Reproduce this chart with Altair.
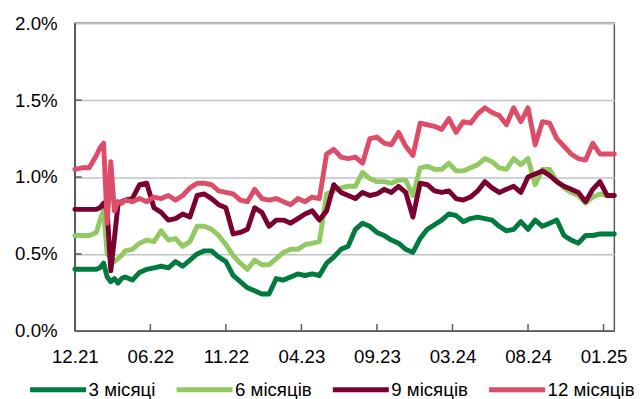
import altair as alt
import pandas as pd

# trading-day index of each sample
t_idx = [0, 10, 20, 30, 35, 40, 45, 50, 55, 60, 65, 70] + list(range(80, 760, 10))

series_names = ["3 місяці", "6 місяців", "9 місяців", "12 місяців"]
series_colors = ["#007A3E", "#93C962", "#7A0032", "#DE4D68"]

m3 = [0.40, 0.40, 0.40, 0.40, 0.41, 0.44, 0.35, 0.32, 0.34, 0.31, 0.34, 0.35,
      0.33, 0.38, 0.40, 0.41, 0.42, 0.41, 0.45, 0.42, 0.46, 0.50,
      0.52, 0.52, 0.48, 0.45, 0.36, 0.32, 0.28, 0.26, 0.24, 0.24,
      0.34, 0.33, 0.35, 0.37, 0.36, 0.37, 0.36, 0.44, 0.48, 0.53,
      0.55, 0.66, 0.70, 0.68, 0.64, 0.62, 0.59, 0.57, 0.53, 0.51,
      0.60, 0.66, 0.69, 0.72, 0.76, 0.75, 0.71, 0.73, 0.74, 0.73,
      0.72, 0.68, 0.65, 0.66, 0.71, 0.66, 0.72, 0.68, 0.70, 0.72,
      0.62, 0.59, 0.57, 0.62, 0.62, 0.63, 0.63, 0.63]

m6 = [0.62, 0.62, 0.62, 0.64, 0.72, 0.78, 0.50, 0.47, 0.45, 0.47, 0.49, 0.52,
      0.53, 0.57, 0.59, 0.58, 0.65, 0.59, 0.60, 0.55, 0.58, 0.68,
      0.68, 0.66, 0.62, 0.56, 0.49, 0.44, 0.40, 0.46, 0.43, 0.43,
      0.47, 0.51, 0.53, 0.53, 0.56, 0.57, 0.58, 0.89, 0.91, 0.93,
      0.94, 0.94, 1.03, 0.99, 0.97, 0.97, 0.96, 0.98, 0.98, 0.88,
      1.06, 1.07, 1.05, 1.05, 1.09, 1.04, 1.04, 1.06, 1.08, 1.12,
      1.10, 1.06, 1.05, 1.12, 1.08, 1.12, 0.95, 1.05, 1.05, 0.97,
      0.93, 0.90, 0.88, 0.83, 0.87, 0.89, 0.88, 0.88]

m9 = [0.79, 0.79, 0.79, 0.79, 0.80, 0.83, 0.78, 0.39, 0.60, 0.82, 0.84, 0.85,
      0.86, 0.95, 0.96, 0.80, 0.77, 0.72, 0.73, 0.76, 0.74, 0.88,
      0.89, 0.86, 0.82, 0.80, 0.63, 0.64, 0.66, 0.80, 0.77, 0.68,
      0.72, 0.72, 0.70, 0.73, 0.76, 0.78, 0.72, 0.78, 0.95, 0.90,
      0.88, 0.86, 0.90, 0.88, 0.89, 0.92, 0.90, 0.94, 0.90, 0.74,
      0.96, 0.95, 0.91, 0.90, 0.91, 0.86, 0.85, 0.87, 0.91, 0.97,
      0.93, 0.90, 0.92, 0.94, 0.90, 1.00, 1.02, 1.04, 1.01, 0.97,
      0.94, 0.92, 0.90, 0.84, 0.92, 0.97, 0.88, 0.88]

m12 = [1.05, 1.06, 1.06, 1.14, 1.19, 1.22, 0.70, 1.10, 0.78, 0.84, 0.83, 0.85,
       0.84, 0.86, 0.84, 0.87, 0.86, 0.88, 0.85, 0.88, 0.93, 0.96,
       0.96, 0.95, 0.91, 0.90, 0.89, 0.85, 0.84, 0.92, 0.86, 0.85,
       0.86, 0.84, 0.82, 0.86, 0.84, 0.87, 0.86, 1.15, 1.18, 1.13,
       1.12, 1.13, 1.09, 1.25, 1.26, 1.22, 1.21, 1.29, 1.20, 1.14,
       1.35, 1.34, 1.33, 1.31, 1.38, 1.29, 1.36, 1.35, 1.41, 1.45,
       1.42, 1.40, 1.34, 1.45, 1.36, 1.45, 1.21, 1.36, 1.35, 1.25,
       1.20, 1.15, 1.12, 1.11, 1.22, 1.15, 1.15, 1.15]

tick_idx = [0, 105, 210, 315, 420, 525, 630, 735]
tick_labels = ["12.21", "06.22", "11.22", "04.23", "09.23", "03.24", "08.24", "01.25"]
y_ticks = [0.0, 0.5, 1.0, 1.5, 2.0]
y_inner_ticks = [0.5, 1.0, 1.5]

rows = []
for name, vals in zip(series_names, [m3, m6, m9, m12]):
    for t, v in zip(t_idx, vals):
        rows.append({"t": t, "series": name, "value": v})
df = pd.DataFrame(rows)
ticks_df = pd.DataFrame({"t": tick_idx, "label": tick_labels})
yticks_df = pd.DataFrame({"v": y_inner_ticks})

label_map = "{" + ",".join(f"'{t}':'{l}'" for t, l in zip(tick_idx, tick_labels)) + "}"

W, H = 549, 313
AXIS_COLOR = "#595959"
FONT = "Liberation Sans"
FS = 19

x_scale = alt.Scale(domain=[0, 750], nice=False, zero=False)
y_scale = alt.Scale(domain=[0, 2], nice=False)

lines = alt.Chart(df).mark_line(strokeWidth=5, strokeJoin="round", strokeCap="round").encode(
    x=alt.X("t:Q", scale=x_scale,
            axis=alt.Axis(values=tick_idx, labelExpr=label_map + "[datum.value]",
                          title=None, ticks=False, grid=False, labelFontSize=FS,
                          labelPadding=17, labelColor="black", labelFont=FONT,
                          domainColor=AXIS_COLOR, domainWidth=1.5, labelFlush=False)),
    y=alt.Y("value:Q", scale=y_scale,
            axis=alt.Axis(values=y_ticks, labelExpr="format(datum.value, '.1f') + '%'",
                          title=None, ticks=False,
                          grid=True, gridColor="#BEC3C6", gridWidth=1.5,
                          labelFontSize=FS, labelPadding=18, labelColor="black",
                          labelFont=FONT, domainColor=AXIS_COLOR, domainWidth=1.5)),
    color=alt.Color("series:N", sort=series_names,
                    scale=alt.Scale(domain=series_names, range=series_colors),
                    legend=alt.Legend(title=None, orient="none", direction="horizontal",
                                      legendX=-48, legendY=342, symbolType="stroke",
                                      symbolSize=3249, symbolStrokeWidth=5,
                                      labelFontSize=FS, labelFont=FONT, labelColor="black",
                                      labelOffset=0, columnPadding=10, columns=4,
                                      padding=0, gridAlign="each", labelLimit=200)),
    order=alt.Order("series_order:Q"),
).transform_calculate(
    series_order="indexof(" + str(series_names) + ", datum.series)"
)

x_inner_ticks = alt.Chart(ticks_df).mark_rule(color=AXIS_COLOR, strokeWidth=1.5).encode(
    x=alt.X("t:Q", scale=x_scale),
    y=alt.value(H - 7),
    y2=alt.value(H),
)

y_inner = alt.Chart(yticks_df).mark_rule(color=AXIS_COLOR, strokeWidth=1.5).encode(
    y=alt.Y("v:Q", scale=y_scale),
    x=alt.value(0),
    x2=alt.value(7),
)

chart = alt.layer(lines, x_inner_ticks, y_inner).properties(
    width=W, height=H,
    autosize=alt.AutoSizeParams(type="none"),
    padding={"left": 68, "top": 12, "right": 20, "bottom": 75},
).configure_view(stroke=AXIS_COLOR, strokeWidth=1.5)

chart.save("out.html", embed_options={"renderer": "svg", "actions": False})
